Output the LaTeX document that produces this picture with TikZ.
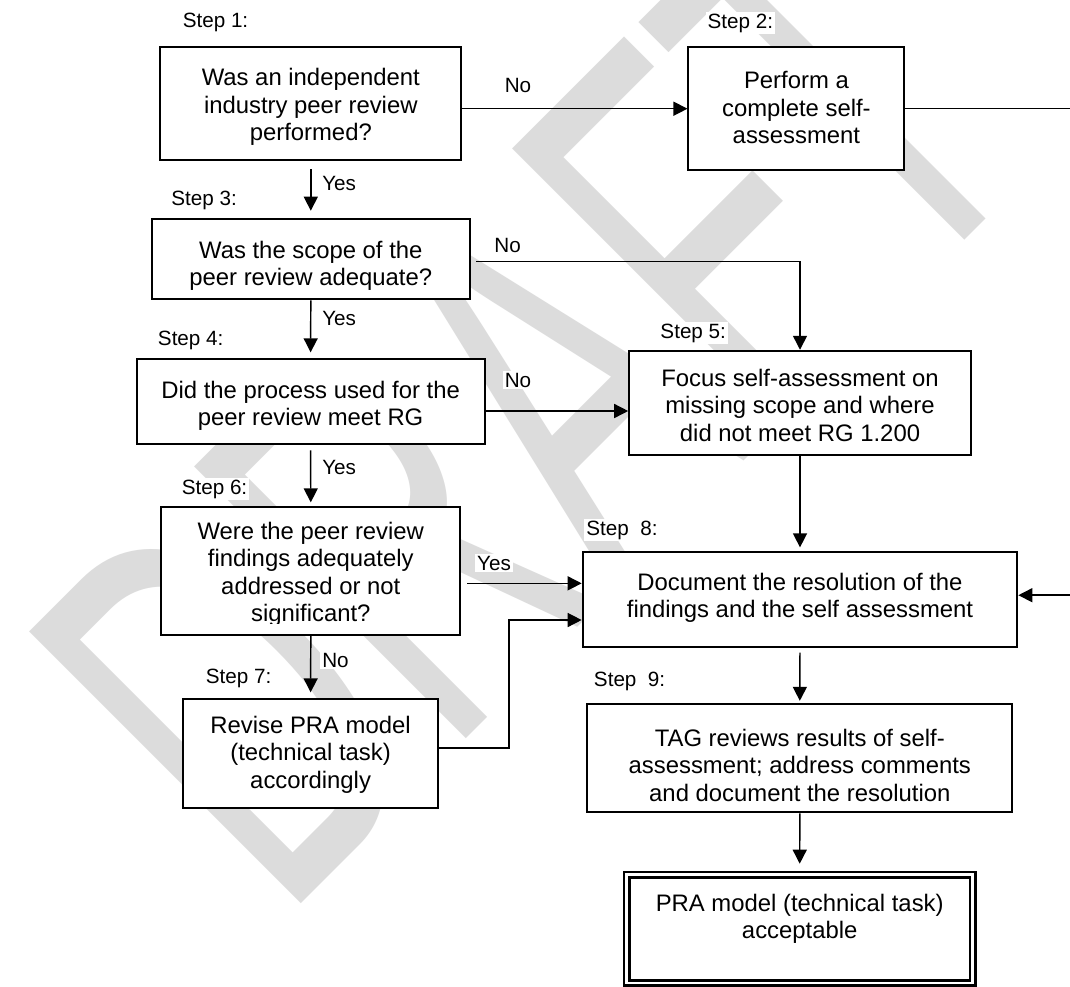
\documentclass[tikz,border=0pt]{standalone}
\usepackage{fontspec}
\setmainfont{Liberation Sans}
\usetikzlibrary{arrows.meta}
\definecolor{wmgray}{RGB}{220,220,220}
\newcommand{\mainfs}{\fontsize{17.9}{20.6}\selectfont}
\newcommand{\smallfs}{\fontsize{15.5}{18}\selectfont}
\newcommand{\wmfs}{\fontsize{419}{419}\selectfont}

\begin{document}
\begin{tikzpicture}[x=0.75pt,y=-0.75pt,
  box/.style={draw, line width=1.5pt, fill=white, inner sep=0pt},
  txt/.style={align=center, font=\mainfs, inner sep=0pt},
  lbl/.style={anchor=west, fill=white, inner sep=1.5pt, font=\smallfs},
  arr/.style={line width=1.1pt, -{Triangle[length=10.5pt,width=10.5pt]}},
]
\useasboundingbox (0,0) rectangle (1070,986);
\clip (0,0) rectangle (1070,986);
\fill[white] (0,0) rectangle (1070,986);

% watermark
\node[text=wmgray, anchor=base west, inner sep=0pt, rotate=45, font=\wmfs]
  (wm) at (282,923) {\scalebox{0.58}[1]{DRAFT}};

% process boxes
\node[box, minimum width=226pt,   minimum height=85pt]   (b1) at (310.8,103.4) {};
\node[box, minimum width=161.9pt, minimum height=92pt]   (b2) at (796.4,108.7) {};
\node[box, minimum width=238.9pt, minimum height=60pt]   (b3) at (310.8,259.3) {};
\node[box, minimum width=260.9pt, minimum height=63.75pt](b4) at (310.6,401.8) {};
\node[box, minimum width=256.2pt, minimum height=78.2pt] (b5) at (800,402.9) {};
\node[box, minimum width=224.4pt, minimum height=95.8pt] (b6) at (310.8,571.2) {};
\node[box, minimum width=191.1pt, minimum height=81.3pt] (b7) at (310.6,753.5) {};
\node[box, minimum width=326pt,   minimum height=71.25pt](b8) at (800,599.2) {};
\node[box, minimum width=318.5pt, minimum height=81.2pt] (b9) at (799.8,758.2) {};
\node[draw, double, double distance=2pt, line width=2pt, fill=white, inner sep=0pt,
      minimum width=259.5pt, minimum height=81.2pt] (fin) at (799.7,928.9) {};

% box texts
\node[txt] (b1t) at (310.8,107) {Was an independent\\industry peer review\\performed?};
\node[txt] (b2t) at (796.4,107.5) {Perform a\\complete self-\\assessment};
\node[txt] (b3t) at (310.8,266) {Was the scope of the\\peer review adequate?};
\node[txt] (b4t) at (310.6,406) {Did the process used for the\\peer review meet RG};
\node[txt] (b5t) at (800,405) {Focus self-assessment on\\missing scope and where\\did not meet RG 1.200};
\begin{scope}
  \clip (161.2,507.3) rectangle (460.4,623.3);
  \node[txt] (b6t) at (310.8,574.5) {Were the peer review\\findings adequately\\addressed or not\\significant?};
\end{scope}
\node[txt] (b7t) at (310.6,754.6) {Revise PRA model\\(technical task)\\accordingly};
\node[txt] (b8t) at (800,598) {Document the resolution of the\\findings and the self assessment};
\node[txt] (b9t) at (799.8,765) {TAG reviews results of self-\\assessment; address comments\\and document the resolution};
\node[txt] (fint) at (799.7,918.7) {PRA model (technical task)\\acceptable};

% step labels
\node[lbl] (s1) at (180.5,22)  {Step 1:};
\node[lbl] (s2) at (705.3,23)  {Step 2:};
\node[lbl] (s3) at (169.1,200) {Step 3:};
\node[lbl] (s4) at (155.7,340) {Step 4:};
\node[lbl] (s5) at (658.2,333) {Step 5:};
\node[lbl] (s6) at (179.5,489) {Step 6:};
\node[lbl] (s7) at (203.6,678) {Step 7:};
\node[lbl] (s8) at (584.1,530) {Step~~8:};
\node[lbl] (s9) at (591.7,681) {Step~~9:};

% answer labels
\node[lbl] (n1) at (502.5,85)  {No};
\node[lbl] (y1) at (320,183)   {Yes};
\node[lbl] (n2) at (492.2,245) {No};
\node[lbl] (y2) at (320,318)   {Yes};
\node[lbl] (n3) at (502.5,380) {No};
\node[lbl] (y3) at (320,467)   {Yes};
\node[lbl] (y4) at (474.9,563) {Yes};
\node[lbl] (n4) at (320,660)   {No};

% connectors
\coordinate (c3) at ([xshift=3.9pt,yshift=-1.8pt]b3.east);
\coordinate (c4) at ([yshift=-6.9pt]b4.east);
\coordinate (c6) at ([xshift=4.5pt,yshift=-9.1pt]b6.east);
\coordinate (c7) at ([yshift=4.3pt]b7.east);
\coordinate (bend) at (509,620);
\coordinate (c8r) at ([yshift=3pt]b8.east);

\draw[arr] (b1.east |- b2.west) -- (b2.west);
\draw[arr] (b2.east) -- ++(250,0) |- (c8r);
\draw[arr, shorten <=6.2pt, shorten >=5.7pt] (b1.south) -- (b3.north);
\draw[arr] (c3) -| (b5.north);
\draw[arr, shorten >=4.5pt] (b3.south) -- (b4.north);
\draw[arr] (c4) -- (c4 -| b5.west);
\draw[arr, shorten <=3.75pt, shorten >=3pt] (b4.south) -- (b6.north);
\draw[arr] (c6) -- (c6 -| b8.west);
\draw[arr, shorten >=4.5pt] (b6.south) -- (b7.north);
\draw[arr] (c7) -| (bend) -- (bend -| b8.west);
\draw[arr, shorten >=2.5pt] (b5.south) -- (b8.north);
\draw[arr, shorten <=3.75pt, shorten >=1.7pt] (b8.south) -- (b9.north);
\draw[arr, shorten >=7.3pt] (b9.south) -- (fin.north);
\end{tikzpicture}
\end{document}
